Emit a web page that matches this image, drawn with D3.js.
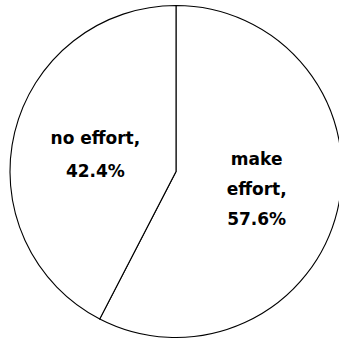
<!DOCTYPE html>
<html>
<head>
<meta charset="utf-8">
<script src="https://cdn.jsdelivr.net/npm/d3@7"></script>
<style>
  body { margin: 0; background: #fff; }
  svg { display: block; }
</style>
</head>
<body>
<div id="chart"></div>
<script>
// Chart data
const categories = ['make effort', 'no effort'];
const values = [57.6, 42.4];
const labelLines = [['make', 'effort,', '57.6%'], ['no effort,', '42.4%']];

const width = 339;
const height = 340;
const cx = 176;
const cy = 171.5;
const radius = 166;

const svg = d3.select('#chart')
    .append('svg')
    .attr('width', width)
    .attr('height', height);

const g = svg.append('g')
    .attr('transform', `translate(${cx},${cy})`);

// Pie starts at 12 o'clock, goes clockwise, keeps order
const pie = d3.pie().sort(null).value(d => d.value);
const arc = d3.arc().innerRadius(0).outerRadius(radius);

const data = categories.map((c, i) => ({ name: c, value: values[i], lines: labelLines[i] }));
const arcs = pie(data);

g.selectAll('path')
    .data(arcs)
    .enter()
    .append('path')
    .attr('d', arc)
    .style('fill', '#fff')
    .style('stroke', '#000')
    .style('stroke-width', 1.1);

// Labels at arc centroids (line gap / baseline nudge per label box)
const lineGap = [30, 33];
const nudge = [4, 8.5];
arcs.forEach((a, i) => {
    const [x, y] = arc.centroid(a);
    const n = a.data.lines.length;
    const gap = lineGap[i];
    const text = g.append('text')
        .attr('text-anchor', 'middle')
        .style('font-family', '"DejaVu Sans", sans-serif')
        .style('font-weight', 'bold')
        .style('font-size', '17px')
        .style('fill', '#000');
    a.data.lines.forEach((line, j) => {
        text.append('tspan')
            .attr('x', x)
            .attr('y', y + (j - (n - 1) / 2) * gap + nudge[i])
            .text(line);
    });
});
</script>
</body>
</html>
